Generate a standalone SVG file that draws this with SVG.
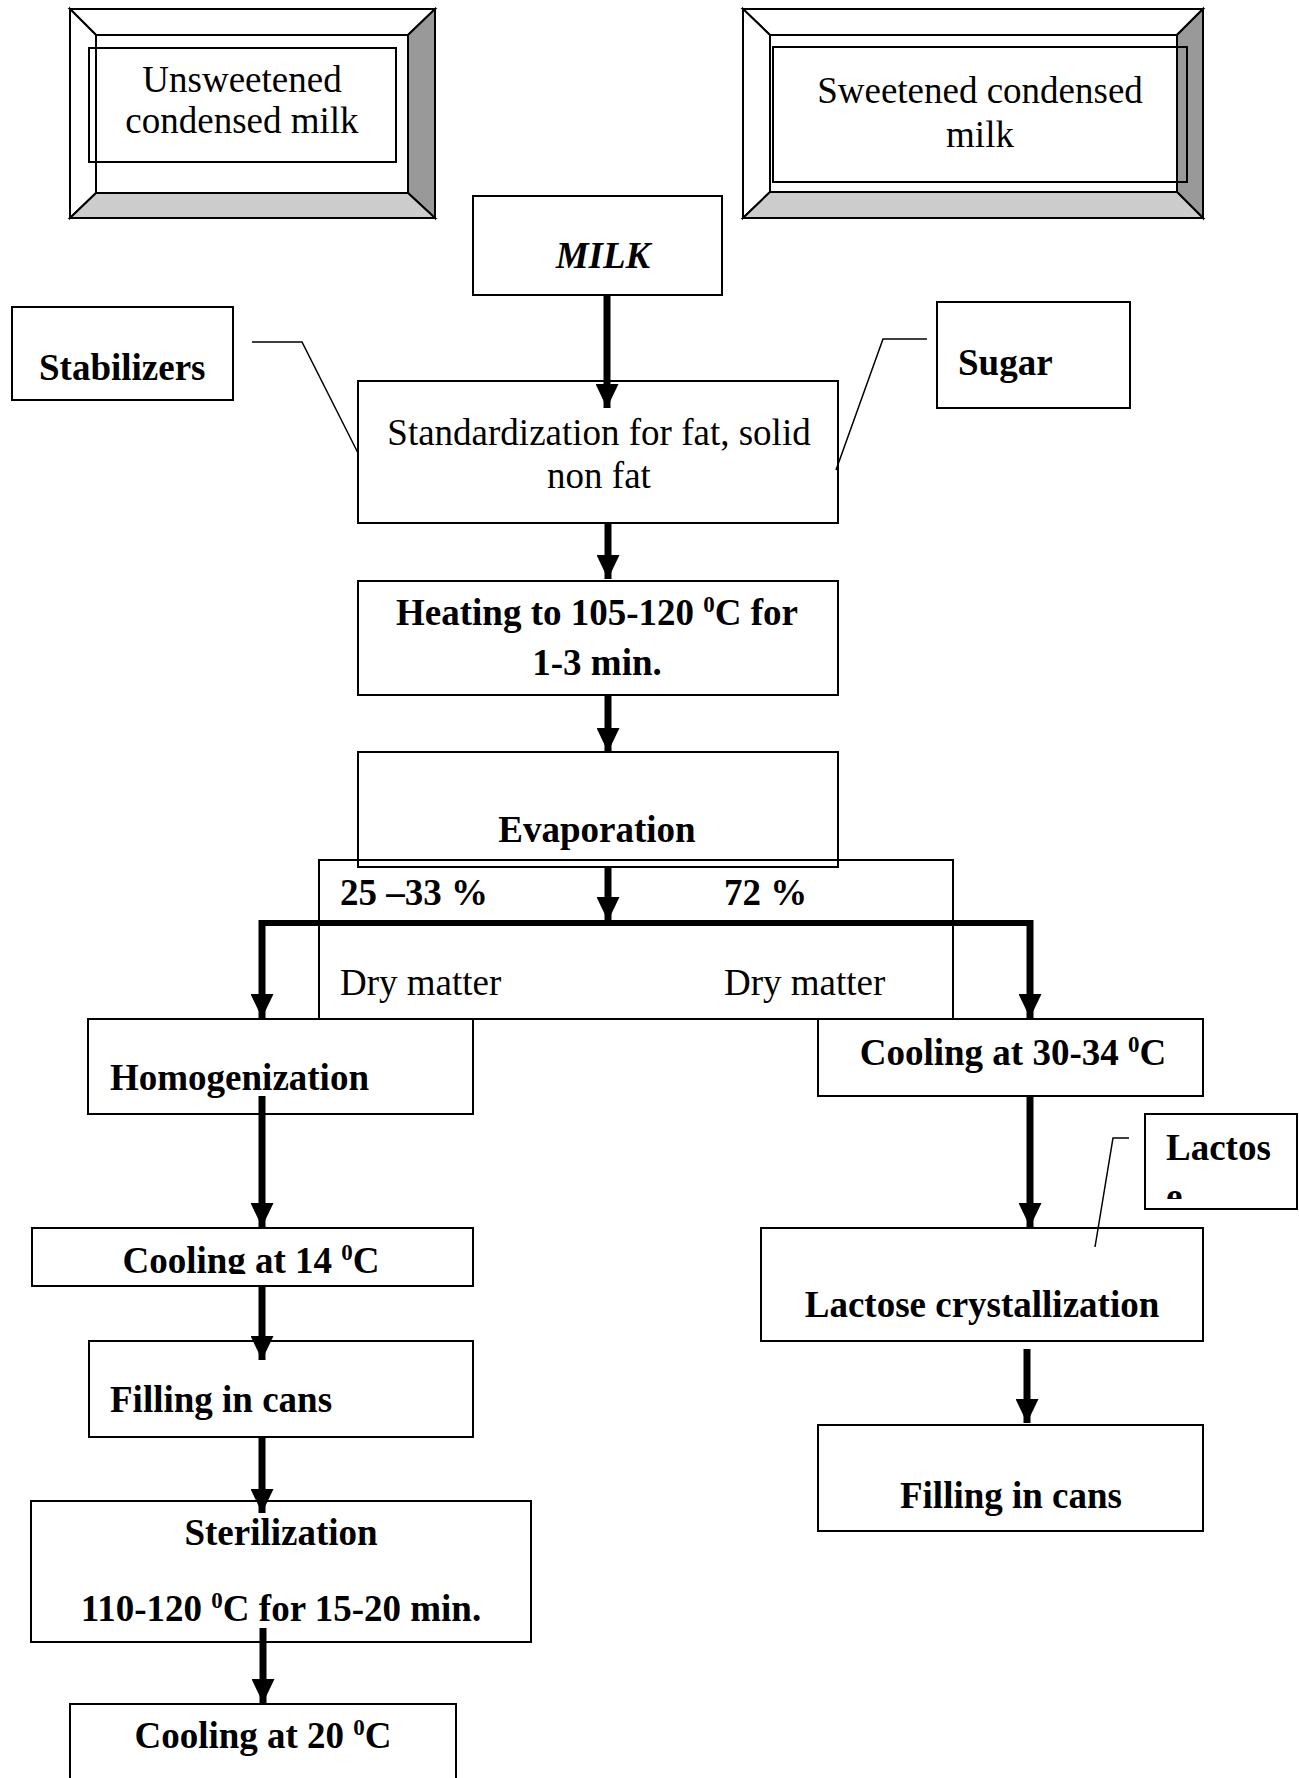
<svg xmlns="http://www.w3.org/2000/svg" width="1299" height="1778" viewBox="0 0 1299 1778">
<style>
.box{fill:none;stroke:#000;stroke-width:2}
.bev{stroke:#000;stroke-width:2;stroke-linejoin:miter}
.t{font-family:"Liberation Serif","Times New Roman",serif;font-size:37px;fill:#000}
.b{font-weight:bold}
.c{text-anchor:middle}
.sup{font-size:23px}
.arr{stroke:#000;stroke-width:7;fill:none}
.thin{stroke:#000;stroke-width:1.5;fill:none}
</style>
<defs>
<marker id="ah" markerUnits="userSpaceOnUse" markerWidth="24" markerHeight="23" refX="24" refY="11.5" orient="auto">
<path d="M0,0 L24,11.5 L0,23 Z" fill="#000"/>
</marker>
<clipPath id="clipLac"><rect x="1146" y="1115" width="151" height="84"/></clipPath>
<clipPath id="clip14"><rect x="33" y="1229" width="440" height="45"/></clipPath>
</defs>
<rect width="1299" height="1778" fill="#fff"/>

<g id="unsweetened">
<polygon class="bev" points="70,9 435,9 408,35 96,35" fill="#fff"/>
<polygon class="bev" points="70,9 96,35 96,193 70,218" fill="#fff"/>
<polygon class="bev" points="435,9 435,218 408,193 408,35" fill="#999"/>
<polygon class="bev" points="70,218 435,218 408,193 96,193" fill="#ccc"/>
<rect class="bev" x="96" y="35" width="312" height="158" fill="#fff"/>
<rect class="box" x="89" y="48" width="307" height="114"/>
<text class="t c" x="242" y="92">Unsweetened</text>
<text class="t c" x="242" y="133">condensed milk</text>
</g>

<g id="sweetened">
<polygon class="bev" points="743,9 1203,9 1177,35 770,35" fill="#fff"/>
<polygon class="bev" points="743,9 770,35 770,192 743,218" fill="#fff"/>
<polygon class="bev" points="1203,9 1203,218 1177,192 1177,35" fill="#999"/>
<polygon class="bev" points="743,218 1203,218 1177,192 770,192" fill="#ccc"/>
<rect class="bev" x="770" y="35" width="407" height="157" fill="#fff"/>
<rect class="box" x="773" y="47" width="414" height="135"/>
<text class="t c" x="980" y="103">Sweetened condensed</text>
<text class="t c" x="980" y="147">milk</text>
</g>

<g id="milk">
<rect class="box" x="473" y="196" width="249" height="99"/>
<text class="t b c" x="603" y="268" font-style="italic">MILK</text>
</g>

<g id="stabilizers">
<rect class="box" x="12" y="307" width="221" height="93"/>
<text class="t b" x="39" y="380">Stabilizers</text>
</g>

<g id="sugar">
<rect class="box" x="937" y="302" width="193" height="106"/>
<text class="t b" x="958" y="375">Sugar</text>
</g>

<g id="standardization">
<rect class="box" x="358" y="381" width="480" height="142"/>
<text class="t c" x="599" y="445">Standardization for fat, solid</text>
<text class="t c" x="599" y="488">non fat</text>
</g>

<g id="heating">
<rect class="box" x="358" y="581" width="480" height="114"/>
<text class="t b c" x="597" y="625">Heating to 105-120 <tspan class="sup" dy="-13">0</tspan><tspan dy="13">C for</tspan></text>
<text class="t b c" x="597" y="675">1-3 min.</text>
</g>

<g id="evaporation">
<rect class="box" x="358" y="752" width="480" height="115"/>
<text class="t b c" x="597" y="842">Evaporation</text>
</g>

<g id="drymatter">
<rect class="box" x="319" y="860" width="634" height="159"/>
<text class="t b" x="340" y="905">25 –33 %</text>
<text class="t b" x="724" y="905">72 %</text>
<text class="t" x="340" y="995">Dry matter</text>
<text class="t" x="724" y="995">Dry matter</text>
</g>

<g id="homogenization">
<rect class="box" x="88" y="1019" width="385" height="95"/>
<text class="t b" x="110" y="1090">Homogenization</text>
</g>

<g id="cooling14">
<rect class="box" x="32" y="1228" width="441" height="58"/>
<text class="t b c" x="251" y="1273" clip-path="url(#clip14)">Cooling at 14 <tspan class="sup" dy="-13">0</tspan><tspan dy="13">C</tspan></text>
</g>

<g id="filling-left">
<rect class="box" x="89" y="1341" width="384" height="96"/>
<text class="t b" x="110" y="1412">Filling in cans</text>
</g>

<g id="sterilization">
<rect class="box" x="31" y="1501" width="500" height="141"/>
<text class="t b c" x="281" y="1545">Sterilization</text>
<text class="t b c" x="281" y="1621">110-120 <tspan class="sup" dy="-13">0</tspan><tspan dy="13">C for 15-20 min.</tspan></text>
</g>

<g id="cooling20">
<rect class="box" x="70" y="1704" width="386" height="90"/>
<text class="t b c" x="263" y="1748">Cooling at 20 <tspan class="sup" dy="-13">0</tspan><tspan dy="13">C</tspan></text>
</g>

<g id="cooling3034">
<rect class="box" x="818" y="1019" width="385" height="77"/>
<text class="t b c" x="1013" y="1065">Cooling at 30-34 <tspan class="sup" dy="-13">0</tspan><tspan dy="13">C</tspan></text>
</g>

<g id="lactose">
<rect class="box" x="1145" y="1114" width="152" height="95"/>
<g clip-path="url(#clipLac)">
<text class="t b" x="1166" y="1160">Lactos</text>
<text class="t b" x="1166" y="1209">e</text>
</g>
</g>

<g id="crystallization">
<rect class="box" x="761" y="1228" width="442" height="113"/>
<text class="t b c" x="982" y="1317">Lactose crystallization</text>
</g>

<g id="filling-right">
<rect class="box" x="818" y="1425" width="385" height="106"/>
<text class="t b c" x="1011" y="1508">Filling in cans</text>
</g>

<g id="connectors">
<line class="arr" x1="607" y1="295" x2="607" y2="408" marker-end="url(#ah)"/>
<line class="arr" x1="608" y1="523" x2="608" y2="579" marker-end="url(#ah)"/>
<line class="arr" x1="608" y1="695" x2="608" y2="752" marker-end="url(#ah)"/>
<line class="arr" x1="608" y1="867" x2="608" y2="921" marker-end="url(#ah)"/>
<line stroke="#000" stroke-width="6" x1="259" y1="923" x2="1033" y2="923"/>
<line class="arr" x1="262" y1="920" x2="262" y2="1018" marker-end="url(#ah)"/>
<line class="arr" x1="1030" y1="920" x2="1030" y2="1018" marker-end="url(#ah)"/>
<line class="arr" x1="262" y1="1096" x2="262" y2="1227" marker-end="url(#ah)"/>
<line class="arr" x1="262" y1="1286" x2="262" y2="1360" marker-end="url(#ah)"/>
<line class="arr" x1="262" y1="1437" x2="262" y2="1513" marker-end="url(#ah)"/>
<line class="arr" x1="263" y1="1628" x2="263" y2="1703" marker-end="url(#ah)"/>
<line class="arr" x1="1030" y1="1096" x2="1030" y2="1227" marker-end="url(#ah)"/>
<line class="arr" x1="1027" y1="1349" x2="1027" y2="1423" marker-end="url(#ah)"/>
<polyline class="thin" points="252,342 302,342 358,453"/>
<polyline class="thin" points="927,339 883,339 836,470"/>
<polyline class="thin" points="1129,1138 1113,1138 1095,1247"/>
</g>
</svg>
